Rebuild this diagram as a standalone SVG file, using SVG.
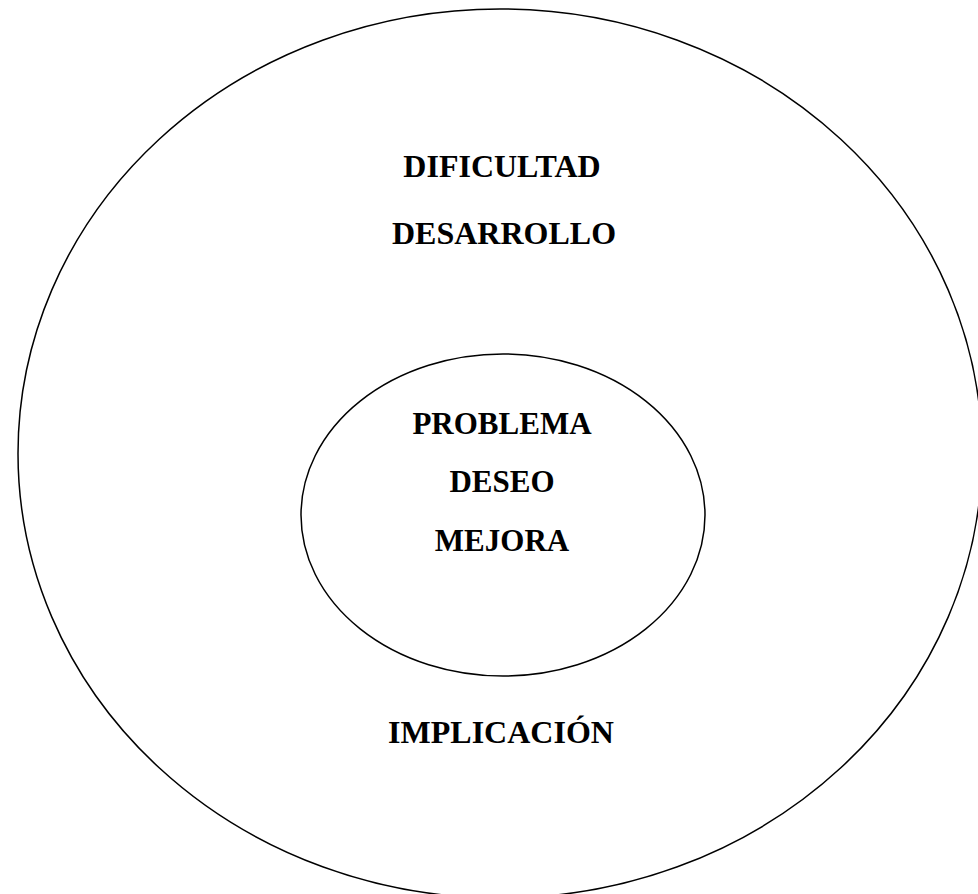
<svg xmlns="http://www.w3.org/2000/svg" width="978" height="894" viewBox="0 0 978 894">
<style>
.ring{fill:none;stroke:#000;stroke-width:1.5}
.t{font-family:"Liberation Serif","Times New Roman",serif;font-weight:bold;fill:#000;text-anchor:middle}
.o{font-size:32px}
.i{font-size:31px}
</style>
<rect width="978" height="894" fill="#fff"/>
<g id="outer">
<ellipse class="ring" cx="500" cy="453.5" rx="482" ry="444.5"/>
<text class="t o" x="502" y="177">DIFICULTAD</text>
<text class="t o" x="504" y="244">DESARROLLO</text>
<text class="t o" x="501" y="743">IMPLICACIÓN</text>
</g>
<g id="inner">
<ellipse class="ring" cx="503" cy="515" rx="202" ry="161"/>
<text class="t i" x="502" y="434">PROBLEMA</text>
<text class="t i" x="502" y="492">DESEO</text>
<text class="t i" x="502" y="551">MEJORA</text>
</g>
<g id="connectors"></g>
</svg>
